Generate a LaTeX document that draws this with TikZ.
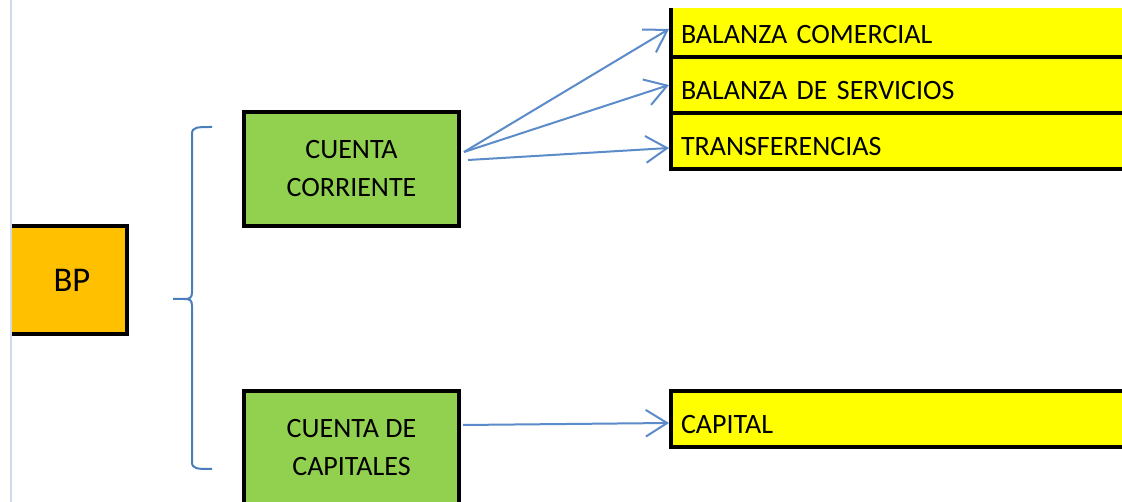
\documentclass[tikz,border=0pt]{standalone}
\usepackage{fontspec}
\setmainfont{Carlito}
\usetikzlibrary{arrows.meta,calc}
\definecolor{bporange}{HTML}{FFC000}
\definecolor{cgreen}{HTML}{92D050}
\definecolor{cyellow}{HTML}{FFFF00}
\definecolor{arrowblue}{HTML}{5B8BC8}
\definecolor{braceblue}{HTML}{4A7EBB}
\definecolor{edgegray}{HTML}{D0DBE8}
\tikzset{
  boxbase/.style={draw=black, line width=3pt, inner sep=0pt, font=\fontsize{21pt}{28.5pt}\selectfont},
  bpbox/.style={boxbase, fill=bporange, minimum width=87.75pt, minimum height=81pt, font=\fontsize{26pt}{30pt}\selectfont},
  greenbox/.style={boxbase, fill=cgreen, minimum width=161.25pt, minimum height=85.5pt, align=center},
  yellowbox/.style={boxbase, fill=cyellow, minimum width=344.25pt, minimum height=42pt,
    inner xsep=7.5pt, inner ysep=0pt, text width=329.25pt, align=left,
    text height=22.5pt, text depth=0pt},
  link/.style={draw=arrowblue, line width=1.5pt, -{Straight Barb[length=16pt,width=20pt,line width=1.5pt]}},
  bracestyle/.style={draw=braceblue, line width=1.5pt}
}
\begin{document}
\begin{tikzpicture}[x=0.75pt,y=-0.75pt]
\useasboundingbox (0,0) rectangle (1122,502);
\draw[edgegray, line width=1.5pt] (11,0) -- (11,502);
\begin{scope}
\clip (12,9) rectangle (1122,502);
\node[bpbox] (bp) at (68.5,280) {\hspace*{5.25pt}BP};
\node[greenbox] (cc) at (351.5,169) {CUENTA\\CORRIENTE};
\node[greenbox] (ck) at (351.5,448) {CUENTA DE\\CAPITALES};
\node[yellowbox] (bc) at (900.5,29) {BALANZA COMERCIAL};
\node[yellowbox] (bs) at (900.5,85) {BALANZA DE SERVICIOS};
\node[yellowbox] (tr) at (900.5,141) {TRANSFERENCIAS};
\node[yellowbox] (cap) at (900.5,419) {CAPITAL};
\draw[link] ($(cc.east)+(3,-17)$) -- (bc.west);
\draw[link] ($(cc.east)+(3,-17)$) -- (bs.west);
\draw[link] ($(cc.east)+(7,-9)$) -- ($(tr.west)+(0,7)$);
\draw[link] ($(ck.east)+(2,-23)$) -- ($(cap.west)+(0,4)$);
\draw[bracestyle] (212,127) .. controls (197,127) and (192,127) .. (192,134)
  -- (192,292) .. controls (192,298) and (190,299) .. (184,299) -- (173,299);
\draw[bracestyle] (184,299) .. controls (190,299) and (192,300) .. (192,306)
  -- (192,462) .. controls (192,469) and (197,469) .. (212,469);
\end{scope}
\end{tikzpicture}
\end{document}
